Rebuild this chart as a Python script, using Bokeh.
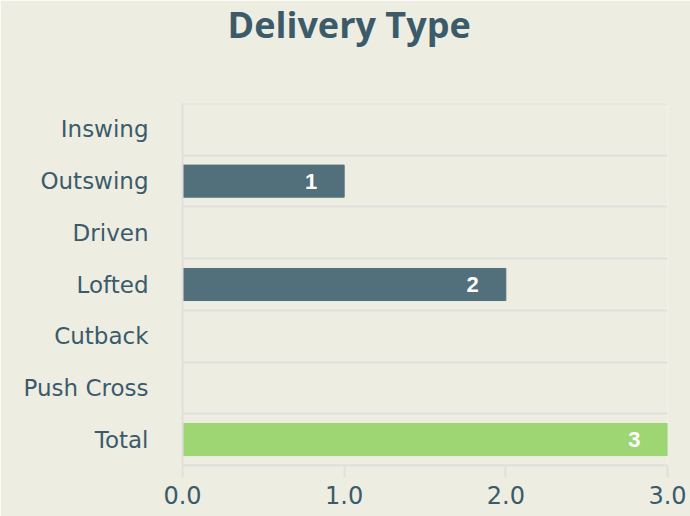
from bokeh.plotting import figure
from bokeh.models import FactorRange, Range1d, FixedTicker, PrintfTickFormatter, ColumnDataSource, Title
from bokeh.embed import file_html
from bokeh.resources import INLINE

categories = ["Inswing", "Outswing", "Driven", "Lofted", "Cutback", "Push Cross", "Total"]
values = [0, 1, 0, 2, 0, 0, 3]
x_ticks = [0, 1, 2, 3]

BAR = "#52707B"
TOTAL = "#9DD672"
TEXT = "#3B5B6B"
GRID = "#E0DFDC"
BG = "#EEEDE2"

colors = [TOTAL if c == "Total" else BAR for c in categories]
src = ColumnDataSource(dict(cat=categories, val=values, color=colors))
lab_cats = [c for c, v in zip(categories, values) if v > 0]
lab_vals = [v for v in values if v > 0]
lab_src = ColumnDataSource(dict(cat=lab_cats, val=lab_vals, txt=[str(v) for v in lab_vals]))

p = figure(width=690, height=516, output_backend="svg", toolbar_location=None,
           y_range=FactorRange(factors=categories[::-1], range_padding=0.002, range_padding_units="absolute"),
           x_range=Range1d(0, 3),
           min_border_left=182, min_border_right=23, min_border_bottom=51, min_border_top=103)
p.background_fill_color = BG
p.border_fill_color = BG
p.outline_line_color = None

main_title = Title(text="Delivery Type", align="left", vertical_align="top",
                   text_font="Open Sans", text_font_size="36px", text_font_style="bold",
                   text_color=TEXT, offset=45, standoff=-8)
spacer = Title(text=" ", text_font_size="10px", standoff=44)
p.title = None
p.above = [spacer, main_title]

p.hbar(y="cat", right="val", left=0, height=0.62, color="color", source=src)
p.text(x="val", y="cat", text="txt", source=lab_src, text_align="right", text_baseline="middle",
       x_offset=-27, text_color="white", text_font_style="bold", text_font_size="22px")

p.xgrid.grid_line_color = None
p.ygrid.ticker = FixedTicker(ticks=list(range(len(categories) + 1)))
p.ygrid.grid_line_color = GRID
p.ygrid.grid_line_width = 2

p.xaxis.ticker = FixedTicker(ticks=x_ticks)
p.xaxis.formatter = PrintfTickFormatter(format="%.1f")
p.xaxis.axis_line_color = GRID
p.xaxis.axis_line_width = 2
p.xaxis.major_tick_line_color = GRID
p.xaxis.major_tick_line_width = 2
p.xaxis.major_tick_out = 12
p.xaxis.major_tick_in = 0
p.xaxis.minor_tick_line_color = None
p.xaxis.major_label_standoff = 8
p.xaxis.major_label_text_font_size = "24px"
p.xaxis.major_label_text_color = TEXT
p.xaxis.major_label_text_font = "DejaVu Sans"

p.yaxis.axis_line_color = GRID
p.yaxis.axis_line_width = 2
p.yaxis.major_tick_line_color = None
p.yaxis.minor_tick_line_color = None
p.yaxis.major_label_standoff = 28
p.yaxis.major_label_text_font_size = "23px"
p.yaxis.major_label_text_color = TEXT
p.yaxis.major_label_text_font = "DejaVu Sans"

open("out.html", "w").write(file_html(p, INLINE))
